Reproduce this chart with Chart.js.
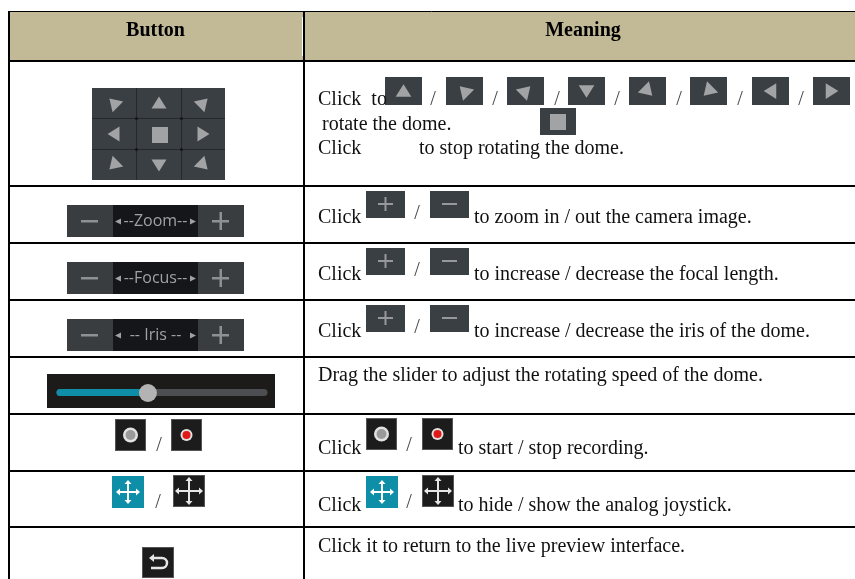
<!DOCTYPE html>
<html lang="en">
<head>
<meta charset="UTF-8">
<title>PTZ buttons</title>
<script src="https://cdn.jsdelivr.net/npm/chart.js"></script>
<style>
    html, body { margin: 0; padding: 0; background: #fff; overflow: hidden; }
    canvas { display: block; }
</style>
</head>
<body>
<canvas id="tbl" width="855" height="579"></canvas>
<script>
// table content
const headers = ['Button', 'Meaning'];
const meaningTexts = [
    'Click  to', 'rotate the dome.', 'Click', 'to stop rotating the dome.',
    'Click', 'to zoom in / out the camera image.',
    'Click', 'to increase / decrease the focal length.',
    'Click', 'to increase / decrease the iris of the dome.',
    'Drag the slider to adjust the rotating speed of the dome.',
    'Click', 'to start / stop recording.',
    'Click', 'to hide / show the analog joystick.',
    'Click it to return to the live preview interface.'
];
const zoomLabels = ['--Zoom--', '--Focus--', '-- Iris --'];
const sliderLevel = [0.433];

// table geometry, in page pixels
const colEdges = [9, 304];
const rowEdges = [11.5, 61, 185.5, 242.5, 299.5, 357, 414, 471, 527];
const headerCentres = [155.5, 583];
const textSpots = [
    [318, 105], [322, 130], [318, 154], [419, 154],
    [318, 223], [474, 223],
    [318, 280], [474, 280],
    [318, 337], [474, 337],
    [318, 381],
    [318, 454], [458, 454],
    [318, 511], [458, 511],
    [318, 552]
];
const slashSpots = [
    [433, 105], [495, 105], [557, 105], [617, 105], [679, 105], [740, 105], [801, 105],
    [417, 219], [417, 276], [417, 333],
    [409, 451], [409, 508],
    [159, 451], [158, 508]
];

// icons are screenshots in the original, so soften the inside a little
function tile(w, h, draw) {
    const c = document.createElement('canvas');
    c.width = w; c.height = h;
    draw(c.getContext('2d'), w, h);
    const soft = document.createElement('canvas');
    soft.width = w; soft.height = h;
    const g = soft.getContext('2d');
    g.drawImage(c, 0, 0);
    g.globalCompositeOperation = 'source-atop';
    g.filter = 'blur(0.5px)';
    g.drawImage(c, 0, 0);
    return soft;
}

function tri(g, cx, cy, deg, s) {
    g.save();
    g.translate(cx, cy);
    g.rotate(deg * Math.PI / 180);
    g.fillStyle = '#a2a3a5';
    g.beginPath();
    g.moveTo(0, -6.5 * s);
    g.lineTo(7.5 * s, 5.5 * s);
    g.lineTo(-7.5 * s, 5.5 * s);
    g.closePath();
    g.fill();
    g.restore();
}

function arrowTile(deg) {
    return tile(37, 28, (g, w, h) => {
        g.fillStyle = '#3a3f44';
        g.fillRect(0, 0, w, h);
        tri(g, w / 2, h / 2, deg, 1.05);
    });
}

function stopTile() {
    return tile(36, 27, (g, w, h) => {
        g.fillStyle = '#3a3f44';
        g.fillRect(0, 0, w, h);
        g.fillStyle = '#a2a3a5';
        g.fillRect(10, 6, 16, 16);
    });
}

function dpad() {
    return tile(133, 92, g => {
        g.fillStyle = '#3a3f44';
        g.fillRect(0, 0, 133, 92);
        g.fillStyle = '#24272b';
        g.fillRect(44, 0, 1, 92); g.fillRect(89, 0, 1, 92);
        g.fillRect(0, 30, 133, 1); g.fillRect(0, 61, 133, 1);
        g.fillStyle = '#14161a';
        [44.5, 89.5].forEach(px => [30.5, 61.5].forEach(py => {
            g.beginPath();
            g.arc(px, py, 1.5, 0, Math.PI * 2);
            g.fill();
        }));
        const xs = [22, 67, 111], ys = [15, 46, 77];
        const degs = [[-45, 0, 45], [-90, null, 90], [-135, 180, 135]];
        degs.forEach((row, j) => row.forEach((d, i) => {
            if (d !== null) tri(g, xs[i], ys[j], d, 1);
        }));
        g.fillStyle = '#a2a3a5';
        g.fillRect(60, 39, 16, 16);
    });
}

function plusMinus(sign) {
    return tile(39, 27, (g, w, h) => {
        g.fillStyle = '#3a3f44';
        g.fillRect(0, 0, w, h);
        g.fillStyle = '#96989a';
        g.fillRect(12, 12, 15, 2);
        if (sign > 0) g.fillRect(18.5, 6, 2, 14);
    });
}

function zoomBar(label) {
    return tile(177, 32, (g, w, h) => {
        g.fillStyle = '#15161a';
        g.fillRect(0, 0, w, h);
        g.fillStyle = '#3a3d40';
        g.fillRect(0, 0, 46, h);
        g.fillRect(131, 0, 46, h);
        g.fillStyle = '#8e9092';
        g.fillRect(14, 15, 17, 2.5);
        g.fillRect(145, 15, 17, 2.5);
        g.fillRect(152.5, 7, 2.5, 18);
        g.fillStyle = '#a0a1a3';
        g.font = '16px "Open Sans"';
        g.textAlign = 'center';
        g.textBaseline = 'middle';
        g.fillText(label, 88.5, 16);
        // small arrow heads at both ends of the label
        g.beginPath();
        g.moveTo(48, 16.5); g.lineTo(54, 13.5); g.lineTo(54, 19.5); g.closePath();
        g.moveTo(129, 16.5); g.lineTo(123, 13.5); g.lineTo(123, 19.5); g.closePath();
        g.fill();
    });
}

function slider() {
    return tile(228, 34, g => {
        g.fillStyle = '#1d1b19';
        g.fillRect(0, 0, 228, 34);
        const left = 13, right = 217, knob = 10 + 210 * sliderLevel[0];
        g.lineWidth = 7;
        g.lineCap = 'round';
        g.strokeStyle = '#4d4e52';
        g.beginPath(); g.moveTo(left, 18.5); g.lineTo(right, 18.5); g.stroke();
        g.strokeStyle = '#0f8ea8';
        g.beginPath(); g.moveTo(left, 18.5); g.lineTo(knob, 18.5); g.stroke();
        g.fillStyle = '#b3b3b3';
        g.beginPath();
        g.arc(knob, 19, 9, 0, Math.PI * 2);
        g.fill();
    });
}

function recTile(red) {
    return tile(31, 32, (g, w, h) => {
        g.fillStyle = '#1c1c1c';
        g.fillRect(0, 0, w, h);
        g.strokeStyle = '#555';
        g.strokeRect(0.5, 0.5, w - 1, h - 1);
        g.fillStyle = '#e2e2e2';
        g.beginPath();
        g.arc(15.5, 16, red ? 6 : 7.5, 0, Math.PI * 2);
        g.fill();
        g.fillStyle = red ? '#e01818' : '#9a9a9a';
        g.beginPath();
        g.arc(15.5, 16, red ? 4 : 5, 0, Math.PI * 2);
        g.fill();
    });
}

function joyTile(teal) {
    return tile(32, 32, (g, w, h) => {
        g.fillStyle = teal ? '#0f8ea8' : '#1c1c1c';
        g.fillRect(0, 0, w, h);
        if (!teal) {
            g.strokeStyle = '#555';
            g.strokeRect(0.5, 0.5, w - 1, h - 1);
        }
        const r = teal ? 9 : 11;
        g.fillStyle = teal ? '#fff' : '#e6e6e6';
        g.translate(w / 2, h / 2);
        for (let i = 0; i < 4; i++) {
            g.fillRect(-1, 0, 2, r);
            g.beginPath();
            g.moveTo(0, r + 3);
            g.lineTo(3.5, r - 1);
            g.lineTo(-3.5, r - 1);
            g.closePath();
            g.fill();
            g.rotate(Math.PI / 2);
        }
    });
}

function backTile() {
    return tile(32, 31, (g, w, h) => {
        g.fillStyle = '#1c1c1c';
        g.fillRect(0, 0, w, h);
        g.strokeStyle = '#555';
        g.strokeRect(0.5, 0.5, w - 1, h - 1);
        g.strokeStyle = '#e6e6e6';
        g.lineWidth = 2.5;
        g.beginPath();
        g.moveTo(10, 11);
        g.lineTo(20, 11);
        g.arc(20, 16, 5, -Math.PI / 2, Math.PI / 2);
        g.lineTo(9, 21);
        g.stroke();
        g.fillStyle = '#e6e6e6';
        g.beginPath();
        g.moveTo(7, 11);
        g.lineTo(12, 7);
        g.lineTo(12, 15);
        g.closePath();
        g.fill();
    });
}

// every picture in the table: its image and top left corner
const iconList = [
    [dpad(), 92, 88],
    [arrowTile(0), 385, 77], [arrowTile(-45), 446, 77], [arrowTile(45), 507, 77], [arrowTile(180), 568, 77],
    [arrowTile(135), 629, 77], [arrowTile(-135), 690, 77], [arrowTile(-90), 752, 77], [arrowTile(90), 813, 77],
    [stopTile(), 540, 108],
    [zoomBar(zoomLabels[0]), 67, 205], [zoomBar(zoomLabels[1]), 67, 262], [zoomBar(zoomLabels[2]), 67, 319],
    [plusMinus(1), 366, 191], [plusMinus(-1), 430, 191],
    [plusMinus(1), 366, 248], [plusMinus(-1), 430, 248],
    [plusMinus(1), 366, 305], [plusMinus(-1), 430, 305],
    [slider(), 47, 374],
    [recTile(false), 115, 419], [recTile(true), 171, 419],
    [recTile(false), 366, 418], [recTile(true), 422, 418],
    [joyTile(true), 112, 476], [joyTile(false), 173, 475],
    [joyTile(true), 366, 476], [joyTile(false), 422, 475],
    [backTile(), 142, 547]
];

const tablePlugin = {
    id: 'tablePlugin',
    beforeDraw(chart) {
        const { ctx, scales: { x, y } } = chart;
        ctx.save();
        ctx.fillStyle = '#c2ba96';
        ctx.fillRect(x.getPixelForValue(colEdges[0]), y.getPixelForValue(rowEdges[0]),
            x.getPixelForValue(855) - x.getPixelForValue(colEdges[0]),
            y.getPixelForValue(rowEdges[1]) - y.getPixelForValue(rowEdges[0]));
        ctx.restore();
    },
    afterDraw(chart) {
        const { ctx, scales: { x, y } } = chart;
        ctx.save();
        // white sliver beside the column line in the header
        ctx.fillStyle = '#fff';
        ctx.fillRect(x.getPixelForValue(302), y.getPixelForValue(17), 1, 39);
        ctx.textBaseline = 'alphabetic';
        ctx.fillStyle = '#000';
        ctx.font = 'bold 20px "Liberation Serif"';
        ctx.textAlign = 'center';
        headers.forEach((h, i) => ctx.fillText(h, x.getPixelForValue(headerCentres[i]), y.getPixelForValue(36)));
        ctx.textAlign = 'left';
        ctx.font = '20px "Liberation Serif"';
        ctx.fillStyle = '#111';
        meaningTexts.forEach((t, i) => ctx.fillText(t, x.getPixelForValue(textSpots[i][0]), y.getPixelForValue(textSpots[i][1])));
        ctx.fillStyle = '#444';
        ctx.textAlign = 'center';
        slashSpots.forEach(s => ctx.fillText('/', x.getPixelForValue(s[0]), y.getPixelForValue(s[1])));
        ctx.restore();
    }
};

new Chart(document.getElementById('tbl'), {
    type: 'scatter',
    data: {
        datasets: [{
            data: iconList.map(i => ({ x: i[1] + i[0].width / 2, y: i[2] + i[0].height / 2 })),
            pointStyle: iconList.map(i => i[0]),
            pointRadius: 10,
            clip: false
        }]
    },
    options: {
        responsive: false,
        animation: false,
        events: [],
        layout: { autoPadding: false, padding: { top: 11, left: 8 } },
        plugins: { legend: { display: false }, tooltip: { enabled: false } },
        scales: {
            x: {
                type: 'linear', min: 8, max: 855,
                afterBuildTicks: s => { s.ticks = colEdges.map(v => ({ value: v })); },
                ticks: { display: false },
                border: { display: false },
                grid: { color: '#000', lineWidth: 2, drawTicks: false }
            },
            y: {
                type: 'linear', min: 11, max: 579, reverse: true,
                afterBuildTicks: s => { s.ticks = rowEdges.map(v => ({ value: v })); },
                ticks: { display: false },
                border: { display: false },
                grid: { color: '#000', lineWidth: c => (c.index === 0 ? 1 : 2), drawTicks: false }
            }
        }
    },
    plugins: [tablePlugin]
});
</script>
</body>
</html>
